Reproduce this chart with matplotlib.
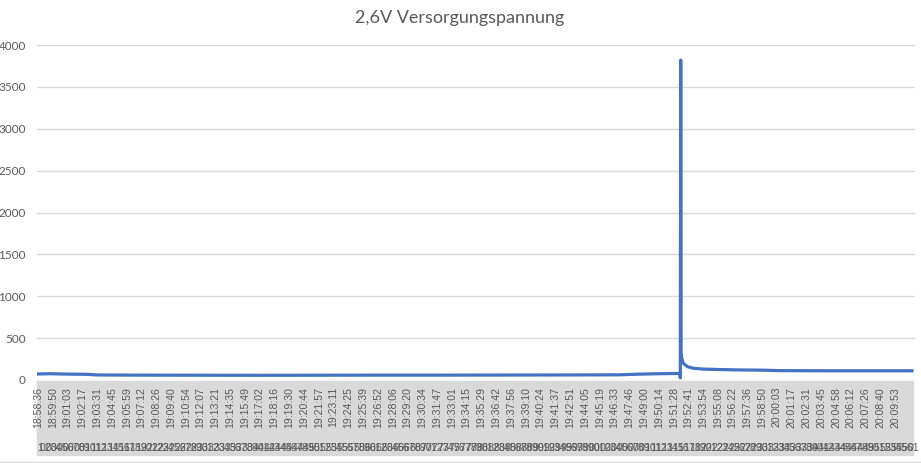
import matplotlib.pyplot as plt

# time labels on the category axis (every ~74 s)
time_labels = ['18:58:36', '18:59:50', '19:01:03', '19:02:17', '19:03:31', '19:04:45',
               '19:05:59', '19:07:12', '19:08:26', '19:09:40', '19:10:54', '19:12:07',
               '19:13:21', '19:14:35', '19:15:49', '19:17:02', '19:18:16', '19:19:30',
               '19:20:44', '19:21:57', '19:23:11', '19:24:25', '19:25:39', '19:26:52',
               '19:28:06', '19:29:20', '19:30:34', '19:31:47', '19:33:01', '19:34:15',
               '19:35:29', '19:36:42', '19:37:56', '19:39:10', '19:40:24', '19:41:37',
               '19:42:51', '19:44:05', '19:45:19', '19:46:33', '19:47:46', '19:49:00',
               '19:50:14', '19:51:28', '19:52:41', '19:53:54', '19:55:08', '19:56:22',
               '19:57:36', '19:58:50', '20:00:03', '20:01:17', '20:02:31', '20:03:45',
               '20:04:58', '20:06:12', '20:07:26', '20:08:40', '20:09:53']

# measured series: seconds since 18:58:36 and value
t_sec = [0, 60, 150, 240, 300, 500, 800, 1100, 1400, 1700, 2000, 2300, 2600, 2900,
         3000, 3100, 3190, 3203, 3205, 3207, 3209, 3212, 3220, 3240, 3270, 3320,
         3400, 3500, 3600, 3700, 3900, 4100, 4361]
values = [72, 75, 70, 68, 60, 58, 57, 56, 57, 58, 58, 59, 60, 62,
          70, 75, 78, 78, 25, 3820, 330, 260, 200, 160, 140, 130,
          125, 120, 118, 112, 110, 110, 110]

# second category level (unreadable, overlapping numbers)
level2 = ['1'] + ['%02d' % (i % 100) for i in range(2, 157)] + ['01']


def to_sec(s):
    h, m, x = [int(p) for p in s.split(':')]
    return (h * 3600 + m * 60 + x) - (18 * 3600 + 58 * 60 + 36)


grey = '#595959'
fig = plt.figure(figsize=(9.21, 4.63), dpi=100)

# grey band under the axis
fig.patches.append(plt.Rectangle((37 / 921, 8 / 463), 876 / 921, 74 / 463,
                                 transform=fig.transFigure, color='#D9D9D9', zorder=-5))

ax = fig.add_axes([37 / 921, 83 / 463, 878 / 921, 335 / 463])
ax.patch.set_alpha(0)

ax.plot(t_sec, values, color='#4472C4', linewidth=2.3, solid_joinstyle='round')

ax.set_ylim(0, 4000)
ax.set_xlim(-5, 4376)
ax.set_yticks(range(0, 4001, 500))
ax.grid(axis='y', color='#D9D9D9', linewidth=1)
ax.set_axisbelow(True)
for s in ax.spines.values():
    s.set_visible(False)
ax.tick_params(axis='y', length=0, pad=8, labelsize=8.5, labelcolor=grey)
for lb in ax.get_yticklabels():
    lb.set_family('Lato')

ax.set_xticks([to_sec(s) for s in time_labels])
ax.set_xticklabels(time_labels, rotation=90, fontsize=7.6, color=grey,
                   family='Liberation Sans', va='top', ha='center')
ax.tick_params(axis='x', length=0, pad=5)

# second level labels
n = len(level2)
for i, lab in enumerate(level2):
    x = 40 + i * (873 / (n - 1))
    fig.text(x / 921, 15 / 463, lab, fontsize=7.6, color=grey, family='Liberation Sans',
             ha='center', va='center')
fig.add_artist(plt.Line2D([0, 1], [1.5 / 463, 1.5 / 463], color='#D9D9D9', linewidth=1,
                          transform=fig.transFigure))

fig.text(460 / 921, 445 / 463, '2,6V Versorgungspannung', fontsize=13, color=grey,
         family='Lato', ha='center', va='center')

fig.savefig('out.png', dpi=100)
